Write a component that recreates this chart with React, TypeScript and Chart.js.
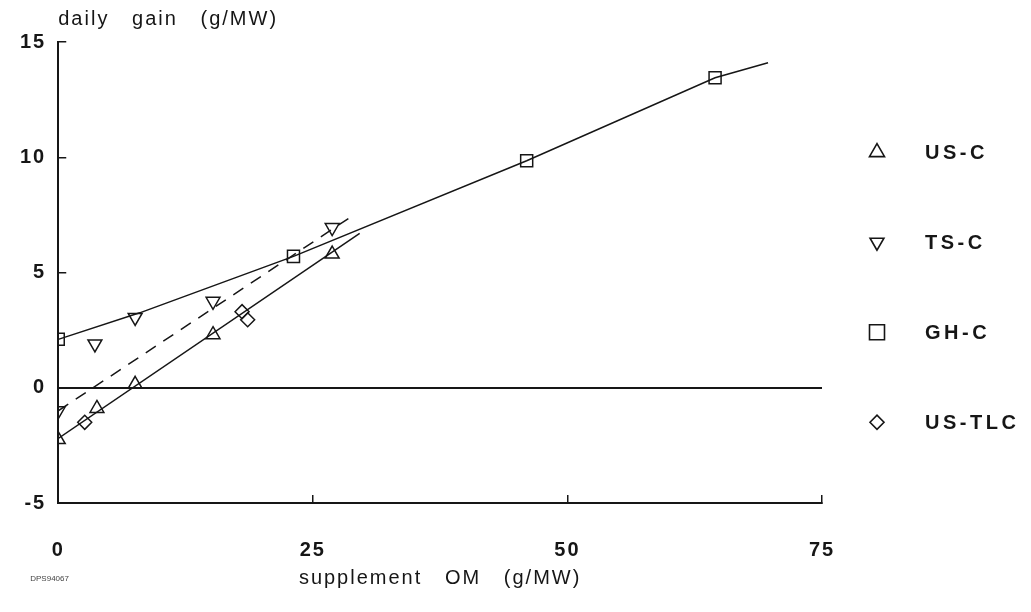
import { useEffect, useRef } from 'react';
import { Chart, registerables } from 'chart.js';
import { drawPoint } from 'chart.js/helpers';

Chart.register(...registerables);

// ---------- data ----------
const seriesNames = ['US-C', 'TS-C', 'GH-C', 'US-TLC'];
const pointStyles = ['triangle', 'triangle', 'rect', 'rectRot'];
const pointRotations = [0, 180, 0, 0];
const pointRadii = [8, 8, 8.5, 7];
const legendRadii = [8.7, 8, 10.6, 7];

const usCX = [0, 3.8, 7.55, 15.2, 26.9];
const usCY = [-2.25, -0.9, 0.15, 2.3, 5.8];
const tsCX = [0, 3.6, 7.55, 15.2, 26.9];
const tsCY = [-1.0, 1.9, 3.05, 3.75, 6.95];
const ghCX = [0, 23.1, 46.0, 64.5];
const ghCY = [2.1, 5.7, 9.85, 13.45];
const usTlcX = [2.6, 18.05, 18.6];
const usTlcY = [-1.5, 3.3, 2.95];

// fitted lines
const usCFitX = [0, 29.6];
const usCFitY = [-2.2, 6.7];
const tsCFitX = [0, 28.7];
const tsCFitY = [-1.0, 7.4];
const ghCFitX = [0, 8, 23.1, 46.0, 64.5, 69.7];
const ghCFitY = [2.1, 3.25, 5.7, 9.85, 13.45, 14.1];

// axes
const xMin = 0, xMax = 75, xStep = 25;
const yMin = -5, yMax = 15, yStep = 5;
const yTitle = 'daily   gain   (g/MW)';
const xTitle = 'supplement   OM   (g/MW)';
const codeLabel = 'DPS94067';

const INK = '#161616';
const FONT = "'Liberation Sans', Arial, Helvetica, sans-serif";

const zip = (xs: number[], ys: number[]) => xs.map((x, i) => ({ x, y: ys[i] }));

const pointSets = [
  zip(usCX, usCY),
  zip(tsCX, tsCY),
  zip(ghCX, ghCY),
  zip(usTlcX, usTlcY),
];

const spacingPlugin = {
  id: 'spacing',
  beforeUpdate(chart: any) {
    chart.ctx.letterSpacing = '2px';
  },
  beforeDraw(chart: any) {
    chart.ctx.letterSpacing = '2px';
  },
};

const sideLegend = {
  id: 'sideLegend',
  afterDraw(chart: any) {
    const { ctx, chartArea, scales } = chart;
    const startY = scales.y.getPixelForValue(10) - 5;
    const step = 90;
    ctx.save();
    seriesNames.forEach((name, i) => {
      const y = startY + i * step;
      const mx = chartArea.right + 55;
      ctx.strokeStyle = INK;
      ctx.fillStyle = 'rgba(0,0,0,0)';
      ctx.lineWidth = 1.6;
      drawPoint(ctx, {
        pointStyle: pointStyles[i],
        rotation: pointRotations[i],
        radius: legendRadii[i],
        borderWidth: 1.6,
      } as any, mx, y);
      ctx.letterSpacing = '3.5px';
      ctx.fillStyle = INK;
      ctx.font = `bold 20px ${FONT}`;
      ctx.textAlign = 'left';
      ctx.textBaseline = 'middle';
      ctx.fillText(name, chartArea.right + 103, y + 1);
    });
    ctx.letterSpacing = '0px';
    ctx.font = `8px ${FONT}`;
    ctx.fillStyle = '#444';
    ctx.textBaseline = 'middle';
    ctx.textAlign = 'left';
    ctx.fillText(codeLabel, chartArea.left - 28, scales.x.bottom - 11);
    ctx.restore();
  },
};

export default function App() {
  const ref = useRef<HTMLCanvasElement | null>(null);

  useEffect(() => {
    if (!ref.current) return;
    Chart.defaults.font.family = FONT;
    Chart.defaults.color = INK;

    const markerDatasets = pointSets.map((data, i) => ({
      type: 'scatter' as const,
      label: seriesNames[i],
      data,
      showLine: false,
      pointStyle: pointStyles[i],
      rotation: pointRotations[i],
      pointRadius: pointRadii[i],
      pointBorderWidth: 1.5,
      pointBorderColor: INK,
      pointBackgroundColor: 'rgba(0,0,0,0)',
      borderColor: INK,
    }));

    const lineDs = (xs: number[], ys: number[], dash: number[]) => ({
      type: 'line' as const,
      label: '',
      data: zip(xs, ys),
      showLine: true,
      borderColor: INK,
      borderWidth: 1.5,
      borderDash: dash,
      pointRadius: 0,
      tension: 0,
      fill: false,
    });

    const chart = new Chart(ref.current, {
      type: 'scatter',
      data: {
        datasets: [
          ...markerDatasets,
          lineDs(usCFitX, usCFitY, []),
          lineDs(tsCFitX, tsCFitY, [12, 9]),
          lineDs(ghCFitX, ghCFitY, []),
        ] as any,
      },
      options: {
        animation: false,
        responsive: true,
        maintainAspectRatio: false,
        layout: { padding: { left: 20, right: 209, top: 0, bottom: 22 } },
        plugins: {
          legend: { display: false },
          tooltip: { enabled: false },
          title: {
            display: true,
            text: yTitle,
            align: 'start',
            fullSize: false,
            position: 'top',
            color: INK,
            font: { size: 20, weight: 'normal' },
            padding: { top: 7, bottom: 11 },
          },
        },
        scales: {
          x: {
            type: 'linear',
            min: xMin,
            max: xMax,
            afterFit: (scale: any) => {
              scale.height = scale.height - scale.options.ticks.padding;
            },
            border: { display: true, color: INK, width: 2 },
            grid: {
              color: 'rgba(0,0,0,0)',
              tickColor: INK,
              tickLength: -8,
              lineWidth: 1.5,
              drawOnChartArea: true,
            },
            ticks: {
              stepSize: xStep,
              padding: 43,
              color: INK,
              font: { size: 20, weight: 'bold' },
              maxRotation: 0,
            },
            title: {
              display: true,
              text: xTitle,
              color: INK,
              font: { size: 20 },
              padding: { top: 4, bottom: 0 },
            },
          },
          y: {
            type: 'linear',
            min: yMin,
            max: yMax,
            afterFit: (scale: any) => {
              scale.width = scale.width - scale.options.ticks.padding;
            },
            border: { display: true, color: INK, width: 2 },
            grid: {
              color: (c: any) => (c.tick && c.tick.value === 0 ? INK : 'rgba(0,0,0,0)'),
              tickColor: INK,
              tickLength: -8,
              lineWidth: (c: any) => (c.tick && c.tick.value === 0 ? 2 : 1.5),
              drawOnChartArea: true,
            },
            ticks: {
              stepSize: yStep,
              padding: 20,
              color: INK,
              font: { size: 20, weight: 'bold' },
            },
          },
        },
      },
      plugins: [spacingPlugin, sideLegend],
    });

    return () => chart.destroy();
  }, []);

  return (
    <div style={{ position: 'fixed', left: 0, top: 0, width: 1031, height: 612, background: '#fff' }}>
      <canvas ref={ref} />
    </div>
  );
}
